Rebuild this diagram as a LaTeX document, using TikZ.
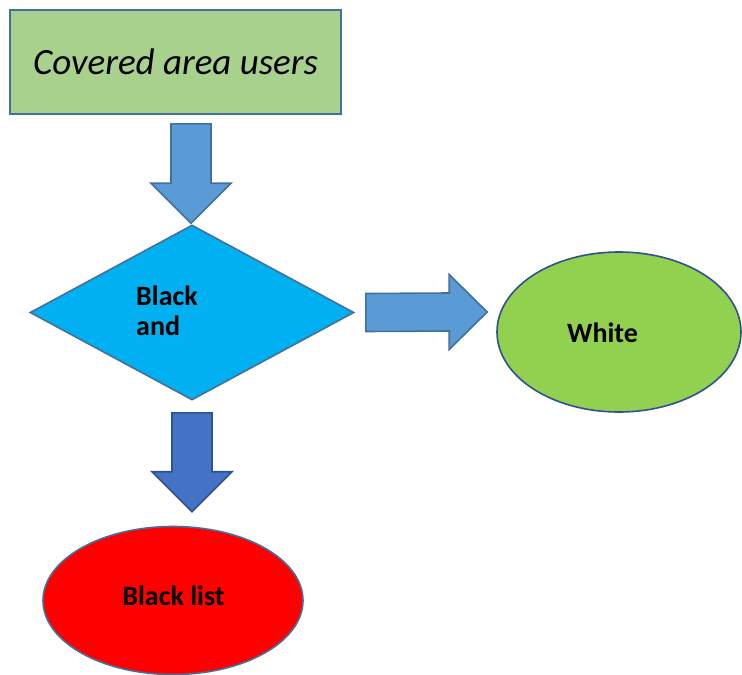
\documentclass[tikz,border=0pt]{standalone}
\usepackage{fontspec}
\setmainfont{Carlito}
\usetikzlibrary{shapes.geometric,calc}

\definecolor{boxgreen}{HTML}{A9D18E}
\definecolor{edgeblue}{HTML}{41719C}
\definecolor{edgedark}{HTML}{2F528F}
\definecolor{arrowblue}{HTML}{5B9BD5}
\definecolor{arrowdark}{HTML}{4472C4}
\definecolor{decblue}{HTML}{00B0F0}
\definecolor{limegreen}{HTML}{92D050}

\tikzset{
  shapeline/.style={line width=1.6pt, line join=miter},
  startbox/.style={shapeline, draw=edgeblue, fill=boxgreen, rectangle,
    minimum width=331pt, minimum height=104pt, inner sep=0pt,
    font=\fontsize{37}{42}\selectfont\itshape},
  decision/.style={shapeline, draw=edgeblue, fill=decblue, diamond,
    minimum width=324pt, minimum height=175pt, inner sep=0pt},
  result/.style={shapeline, ellipse, inner sep=0pt},
  boldlabel/.style={inner sep=0pt, font=\fontsize{28}{30}\selectfont\bfseries, align=left},
  blockarrow/.style={shapeline, draw=edgeblue, fill=arrowblue},
}

% downward block arrow from #1 (top of shaft) to #2 (tip)
\newcommand{\downblock}[3]{%
  \filldraw[#3] ($(#1)+(-20,0)$) -- ($(#1)+(20,0)$) -- ($(#2)+(20,-40)$)
    -- ($(#2)+(40,-40)$) -- (#2) -- ($(#2)+(-40,-40)$) -- ($(#2)+(-20,-40)$) -- cycle;}
% rightward block arrow from #1 (back of shaft) to #2 (tip)
\newcommand{\rightblock}[3]{%
  \filldraw[#3] ($(#1)+(0,-19)$) -- ($(#2)+(-38,-19)$) -- ($(#2)+(-38,-37.5)$)
    -- (#2) -- ($(#2)+(-38,37.5)$) -- ($(#2)+(-38,19)$) -- ($(#1)+(0,19)$) -- cycle;}

\begin{document}
\begin{tikzpicture}[x=1pt, y={(0pt,-1pt)}]
  \useasboundingbox (0,0) rectangle (742,675);

  % shapes
  \node[startbox] (cov) at (175.5,62) {Covered area users};
  \node[decision] (dec) at (192,312.5) {};
  \node[boldlabel, anchor=west] (decText) at (136,311) {Black\\and};
  \node[result, draw=edgedark, fill=limegreen, minimum width=244pt, minimum height=160pt]
    (white) at (619,332) {};
  \node[boldlabel, anchor=base] (whiteText) at (602.5,342) {White};
  \node[result, draw=edgeblue, fill=red, minimum width=260pt, minimum height=148pt]
    (black) at (173,600.5) {};
  \node[boldlabel, anchor=base] (blackText) at (173.5,605) {Black list};

  % block arrows between the shapes
  \coordinate (a1s) at ($(cov.south)+(15.5,9)$);
  \coordinate (a1e) at ($(dec.north)+(-1,-1)$);
  \downblock{a1s}{a1e}{blockarrow}

  \coordinate (a2s) at ($(dec.east)+(11,0)$);
  \coordinate (a2e) at ($(white.west)+(-9,-20)$);
  \rightblock{a2s}{a2e}{blockarrow}

  \coordinate (a3s) at ($(dec.south)+(0,12)$);
  \coordinate (a3e) at ($(black.north)+(19,-14)$);
  \downblock{a3s}{a3e}{blockarrow, draw=edgedark, fill=arrowdark}
\end{tikzpicture}
\end{document}
